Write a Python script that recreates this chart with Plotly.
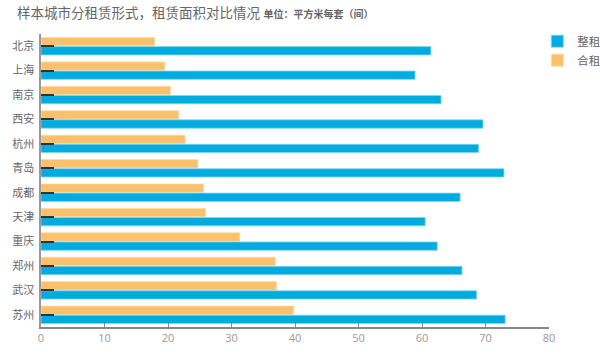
import plotly.graph_objects as go

cities = ["北京", "上海", "南京", "西安", "杭州", "青岛", "成都", "天津", "重庆", "郑州", "武汉", "苏州"]
whole_rent = [61.4, 58.9, 63.0, 69.6, 68.9, 72.9, 66.0, 60.5, 62.4, 66.3, 68.6, 73.1]   # 整租
shared_rent = [17.9, 19.5, 20.4, 21.7, 22.7, 24.7, 25.6, 25.9, 31.3, 36.9, 37.1, 39.8]  # 合租
x_ticks = [0, 10, 20, 30, 40, 50, 60, 70, 80]

BLUE = "#00ACDF"
ORANGE = "#FBC06B"
FONT = "Open Sans, Noto Sans CJK SC, sans-serif"

fig = go.Figure()
fig.add_trace(go.Bar(
    y=cities, x=shared_rent, name="合租", orientation="h",
    marker=dict(color=ORANGE, line=dict(color="#FDDCA8", width=0.8)),
    legendrank=2,
))
fig.add_trace(go.Bar(
    y=cities, x=whole_rent, name="整租", orientation="h",
    marker=dict(color=BLUE, line=dict(color="#7FD5EF", width=0.8)),
    legendrank=1,
))

fig.update_layout(
    width=600, height=356,
    margin=dict(l=41, r=51, t=34, b=29, autoexpand=False),
    paper_bgcolor="white", plot_bgcolor="white",
    barmode="group", bargap=0.25, bargroupgap=0.09,
    font=dict(family=FONT, color="#666666", size=11),
    title=dict(
        text="样本城市分租赁形式，租赁面积对比情况 <span style='font-size:10px;font-weight:600'>单位：平方米每套（间）</span>",
        font=dict(size=13.5, color="#666666", family=FONT),
        x=17/600, xanchor="left", xref="container",
        y=1-13/356, yanchor="middle", yref="container",
    ),
    legend=dict(
        x=0.977, xanchor="left", y=1.025, yanchor="top",
        font=dict(size=11.5, color="#666666", family=FONT),
        bgcolor="rgba(0,0,0,0)", tracegroupgap=0,
    ),
    xaxis=dict(
        range=[0, 80], tickvals=x_ticks, showgrid=False, zeroline=False,
        showline=True, linecolor="#888888", linewidth=1.5,
        ticks="inside", ticklen=4, tickcolor="#888888",
        tickfont=dict(size=11, color="#999999"), automargin=False,
    ),
    yaxis=dict(
        autorange="reversed", showgrid=False, zeroline=False,
        showline=True, linecolor="#999999", linewidth=1.5,
        ticks="inside", ticklen=13, tickcolor="#333333", tickwidth=1.5,
        tickfont=dict(size=11, color="#666666"), ticksuffix=" ",
        automargin=False,
    ),
)

fig.write_html(
    "out.html",
    config={"displayModeBar": False},
    post_script="document.body.style.margin='0';document.body.style.padding='0';",
)
